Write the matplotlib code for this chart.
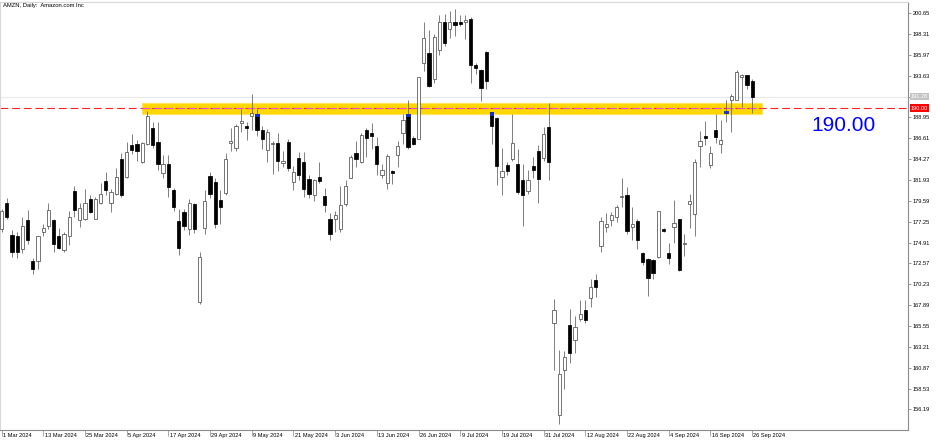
import numpy as np
import matplotlib.pyplot as plt
from matplotlib.patches import Rectangle
from matplotlib.transforms import blended_transform_factory

# ---------- Data (AMZN daily) ----------
opens = [176.4, 179.4, 175.8, 175.6, 174.2, 177.4, 172.8, 172.8, 176.1, 176.8,
         177.4, 175.7, 174.1, 175.7, 180.7, 177.4, 177.6, 179.8, 177.6, 179.4,
         181.8, 179.3, 180.4, 184.3, 182.3, 185.8, 186.0, 183.9, 186.0, 187.8,
         186.2, 182.7, 183.7, 180.75, 177.3, 178.3, 176.45, 179.25, 168.2, 176.6,
         182.4, 181.7, 179.7, 180.5, 186.1, 185.5, 188.35, 188.0, 189.1, 189.35,
         187.55, 185.3, 186.0, 186.05, 183.8, 186.2, 181.7, 184.4, 184.0, 182.0,
         180.3, 182.3, 180.1, 177.6, 177.6, 176.45, 179.2, 182.1, 184.9, 183.9,
         187.5, 187.2, 185.7, 182.5, 181.6, 182.9, 184.75, 187.2, 189.35, 186.6,
         186.55, 195.0, 196.2, 193.3, 196.5, 199.7, 198.9, 199.7, 199.7, 199.6,
         200.0, 194.8, 194.3, 196.25, 189.5, 188.85, 182.3, 183.6, 184.3, 183.75,
         181.9, 180.7, 183.55, 185.15, 184.4, 187.9, 165.9, 155.6, 160.65, 165.7,
         164.0, 166.3, 167.4, 168.7, 170.7, 174.5, 176.65, 177.45, 177.75, 180.0,
         180.25, 176.7, 177.3, 173.7, 173.1, 173.0, 173.3, 176.45, 173.7, 176.7,
         177.5, 174.7, 179.2, 178.1, 185.7, 186.9, 183.65, 187.55, 186.0, 189.45,
         190.9, 190.9, 193.5, 193.75, 193.0]

highs = [178.7, 179.9, 176.3, 176.1, 177.75, 178.6, 173.2, 175.7, 177.0, 179.4,
         177.6, 176.6, 176.1, 178.4, 181.2, 179.3, 180.9, 180.3, 180.0, 181.6,
         182.8, 180.9, 183.3, 185.0, 186.2, 187.1, 186.4, 186.2, 189.7, 188.4,
         188.4, 184.7, 184.7, 181.0, 178.7, 178.7, 179.8, 179.4, 173.8, 180.75,
         182.8, 182.1, 180.75, 185.0, 187.8, 188.2, 189.9, 188.4, 191.6, 189.9,
         188.0, 187.7, 186.35, 187.2, 185.2, 186.55, 183.55, 185.1, 185.1, 182.5,
         182.0, 183.9, 181.05, 178.2, 178.4, 181.3, 181.9, 184.7, 186.3, 187.2,
         187.8, 188.3, 186.7, 183.7, 184.8, 183.0, 186.35, 189.35, 190.95, 186.9,
         193.5, 199.7, 198.8, 198.3, 200.4, 200.5, 200.9, 201.1, 200.4, 200.4,
         200.2, 195.0, 194.4, 196.45, 189.6, 188.95, 185.5, 184.0, 189.35, 185.4,
         183.75, 183.0, 184.5, 185.8, 187.85, 190.55, 168.6, 162.9, 162.8, 167.5,
         166.7, 168.5, 168.5, 170.85, 171.4, 177.75, 178.2, 178.3, 179.1, 182.2,
         181.1, 178.9, 177.6, 173.8, 173.2, 173.1, 178.5, 176.6, 174.85, 179.7,
         177.6, 175.9, 180.4, 184.3, 187.4, 188.5, 185.7, 189.3, 188.7, 190.9,
         191.6, 194.3, 193.8, 193.75, 193.3]

lows = [176.1, 177.6, 173.3, 173.2, 173.7, 174.8, 171.4, 171.97, 175.6, 176.45,
        173.8, 174.2, 173.9, 174.6, 177.8, 176.7, 177.4, 178.25, 177.5, 179.25,
        180.2, 178.3, 180.2, 180.0, 182.2, 184.8, 184.1, 183.8, 185.8, 185.5,
        183.0, 182.2, 180.0, 178.5, 173.5, 176.3, 175.8, 176.0, 168.0, 175.9,
        179.9, 176.6, 177.0, 180.3, 185.2, 185.2, 187.3, 186.4, 187.5, 186.9,
        185.4, 183.9, 182.6, 182.9, 183.4, 182.9, 180.75, 181.95, 180.0, 179.9,
        179.6, 181.6, 178.3, 175.2, 176.1, 176.1, 179.0, 182.1, 183.4, 183.8,
        184.5, 185.4, 182.5, 182.2, 180.9, 181.5, 183.4, 186.0, 185.4, 185.8,
        186.5, 194.2, 192.4, 192.8, 195.9, 197.0, 197.9, 198.1, 199.25, 197.75,
        192.8, 193.8, 190.8, 192.15, 186.0, 181.4, 180.2, 182.5, 184.1, 180.4,
        176.8, 180.4, 182.2, 179.3, 184.1, 181.9, 160.6, 154.6, 158.5, 161.4,
        162.5, 166.1, 165.9, 167.65, 168.8, 173.9, 176.1, 176.8, 177.2, 178.9,
        175.9, 175.15, 174.2, 172.35, 168.95, 170.85, 173.2, 176.1, 172.5, 174.9,
        171.7, 173.45, 176.6, 175.7, 183.4, 185.9, 183.3, 186.05, 184.9, 188.4,
        187.3, 190.85, 190.1, 192.15, 189.45]

closes = [178.4, 177.8, 173.8, 173.8, 176.8, 175.2, 172.0, 175.67, 176.5, 178.6,
          174.8, 174.3, 175.9, 177.8, 178.6, 178.8, 179.4, 178.3, 179.8, 180.4,
          180.75, 180.6, 182.3, 180.2, 185.05, 185.3, 185.2, 186.1, 189.15, 185.8,
          183.7, 183.7, 181.1, 178.95, 174.3, 176.8, 179.3, 176.45, 173.3, 179.6,
          180.4, 177.0, 178.9, 184.3, 186.25, 188.0, 188.6, 187.8, 189.4, 187.5,
          186.55, 187.3, 186.05, 184.1, 184.1, 183.3, 182.8, 182.5, 180.9, 180.4,
          181.9, 181.8, 179.1, 175.9, 178.0, 179.15, 181.2, 184.5, 184.3, 187.0,
          186.6, 186.9, 183.7, 183.1, 184.6, 182.7, 185.7, 188.7, 185.6, 186.0,
          193.45, 197.8, 192.5, 198.0, 199.7, 197.3, 199.7, 199.3, 199.4, 199.9,
          194.85, 194.5, 192.3, 193.0, 187.95, 183.55, 182.9, 182.9, 186.05, 180.55,
          180.3, 181.9, 183.1, 182.0, 187.1, 183.9, 167.3, 160.2, 162.05, 162.5,
          165.4, 166.9, 166.25, 169.9, 169.9, 177.3, 177.0, 178.0, 178.9, 180.15,
          176.2, 177.0, 175.2, 172.7, 170.95, 171.5, 178.4, 176.25, 173.2, 177.1,
          171.85, 174.9, 179.6, 183.9, 186.3, 186.65, 184.9, 186.7, 186.45, 189.7,
          191.3, 194.0, 193.75, 192.6, 191.28]

date_labels = ["1 Mar 2024", "13 Mar 2024", "25 Mar 2024", "5 Apr 2024", "17 Apr 2024",
               "29 Apr 2024", "9 May 2024", "21 May 2024", "3 Jun 2024", "13 Jun 2024",
               "26 Jun 2024", "9 Jul 2024", "19 Jul 2024", "31 Jul 2024", "12 Aug 2024",
               "22 Aug 2024", "4 Sep 2024", "16 Sep 2024", "26 Sep 2024"]
label_every = 8

price_ticks = [200.65, 198.31, 195.97, 193.63, 191.29, 188.95, 186.61, 184.27, 181.93,
               179.59, 177.25, 174.91, 172.57, 170.23, 167.89, 165.55, 163.21, 160.87,
               158.53, 156.19]

level = 190.00
bid = 191.28
zone_low, zone_high = 189.33, 190.59
zone_first_bar, zone_last_bar = 27, 146
blue_bars = [49, 78, 94, 139]

# ---------- Plot ----------
plt.rcParams["font.family"] = ["Liberation Sans", "DejaVu Sans"]
W, H = 936, 442
fig = plt.figure(figsize=(W / 100, H / 100), dpi=100)
ax = fig.add_axes([0.0, 1 - 430 / H, 908 / W, 428 / H])

x = np.arange(len(opens))
o, h, l, c = (np.array(a, dtype=float) for a in (opens, highs, lows, closes))
up = c >= o
lo = np.minimum(o, c)
hgt = np.maximum(np.abs(c - o), 0.04)
bw = 0.62

# support / resistance zone
ax.add_patch(Rectangle((zone_first_bar - 0.05, zone_low), zone_last_bar - zone_first_bar,
                       zone_high - zone_low, facecolor="#FFD700", edgecolor="#FFE460",
                       lw=0.8, zorder=1))
ax.axhline(bid, color="#e8e8e8", lw=0.8, zorder=0.5)
ax.axhline(level, color="#ff2020", lw=0.8, dashes=(7, 3.5), zorder=1.5)
ax.hlines(level, zone_first_bar - 0.05, zone_last_bar - 0.05, color="#f050c8", lw=0.8,
          linestyles=(0, (7, 3.5)), zorder=1.6)

# candles
ax.vlines(x, l, h, color="#6a6a6a", lw=0.6, zorder=2)
ax.bar(x[up], hgt[up], bottom=lo[up], width=bw, facecolor="white",
       edgecolor="#505050", lw=0.55, zorder=3)
ax.bar(x[~up], hgt[~up], bottom=lo[~up], width=bw, facecolor="black",
       edgecolor="black", lw=0.55, zorder=3)
bb = np.array(blue_bars)
top = np.maximum(o, c)[bb]
ax.bar(bb, np.minimum(hgt[bb], 0.3), bottom=top - np.minimum(hgt[bb], 0.3), width=bw,
       facecolor="#1030e0", edgecolor="#1030e0", lw=0.55, zorder=3.5)

ax.set_xlim(-0.29, 173.9)
ax.set_ylim(153.89, 201.89)

# axes frame
for side in ("left", "top"):
    ax.spines[side].set_color("#d8d8d8")
    ax.spines[side].set_linewidth(0.8)
for side in ("right", "bottom"):
    ax.spines[side].set_color("#8c8c8c")
    ax.spines[side].set_linewidth(0.8)

# price axis
ax.yaxis.tick_right()
ax.set_yticks(price_ticks)
ax.set_yticklabels([f"{p:.2f}" for p in price_ticks])
ax.tick_params(axis="y", length=2.2, width=0.6, pad=1, labelsize=4.1,
               colors="#8c8c8c", labelcolor="black")

# time axis
tick_pos = np.arange(0, len(opens), label_every)
ax.set_xticks(tick_pos)
ax.set_xticklabels([])
ax.tick_params(axis="x", length=4.5, width=0.6, colors="#9a9a9a", direction="out")
xt = blended_transform_factory(ax.transData, ax.transAxes)
for pos, lab in zip(tick_pos, date_labels):
    ax.text(pos + 0.25, -0.006, lab, transform=xt, ha="left", va="top",
            fontsize=4.1, clip_on=False)

# price labels on the scale
yt = blended_transform_factory(ax.transAxes, ax.transData)
ax.text(1.003, bid, f"{bid:.2f}", transform=yt, ha="left", va="center", fontsize=4.1,
        color="white", zorder=5, clip_on=False,
        bbox=dict(boxstyle="square,pad=0.2", fc="#c4c4c4", ec="none"))
ax.text(1.003, level, f"{level:.2f}", transform=yt, ha="left", va="center", fontsize=4.1,
        color="white", zorder=5, clip_on=False,
        bbox=dict(boxstyle="square,pad=0.2", fc="#ff0000", ec="none"))

# level text and title
ax.text(155.3, 187.42, f"{level:.2f}", color="#0000ff", fontsize=15,
        ha="left", va="baseline", zorder=5)
fig.text(3 / W, 1 - 5.5 / H, "AMZN, Daily:  Amazon.com Inc", fontsize=4.2,
         ha="left", va="center")

fig.savefig("out.png", dpi=100)
